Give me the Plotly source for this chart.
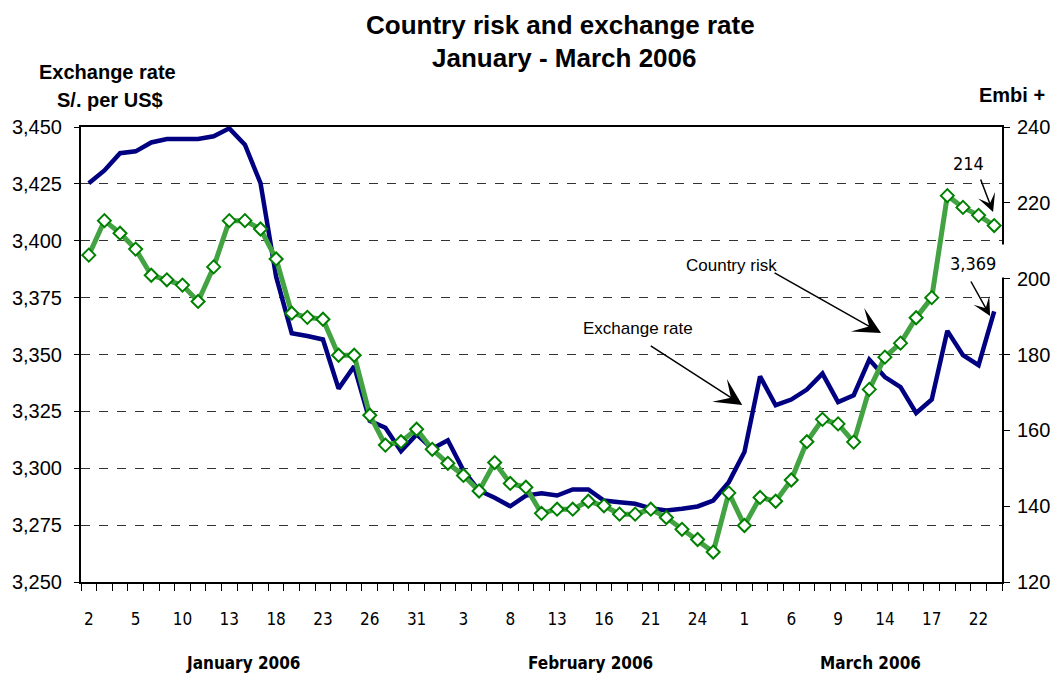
import plotly.graph_objects as go

# Trading days Jan 2 - Mar 23, 2006
days = [2, 3, 4, 5, 6, 9, 10, 11, 12, 13, 16, 17, 18, 19, 20, 23, 24, 25, 26, 27, 30, 31,
        1, 2, 3, 6, 7, 8, 9, 10, 13, 14, 15, 16, 17, 20, 21, 22, 23, 24, 27, 28,
        1, 2, 3, 6, 7, 8, 9, 10, 13, 14, 15, 16, 17, 20, 21, 22, 23]

exchange_rate = [3425.3, 3430.9, 3438.5, 3439.3, 3443.2, 3444.7, 3444.7, 3444.7, 3445.9, 3449.4,
                 3442.2, 3425.3, 3384.2, 3359.3, 3358.1, 3356.6, 3335.0, 3344.8, 3320.8, 3317.8,
                 3307.5, 3314.9, 3308.6, 3312.3, 3299.0, 3290.2, 3287.0, 3283.3, 3288.0, 3289.0,
                 3288.0, 3290.7, 3290.7, 3285.8, 3285.1, 3284.4, 3282.4, 3281.4, 3282.2, 3283.2,
                 3285.8, 3293.9, 3307.1, 3340.4, 3327.7, 3330.2, 3334.6, 3341.6, 3329.1, 3332.1,
                 3347.8, 3340.1, 3335.7, 3324.3, 3330.2, 3360.4, 3349.7, 3345.3, 3369.0]

country_risk = [206.2, 215.3, 212.0, 207.8, 200.9, 199.7, 198.3, 194.0, 203.1, 215.3,
                215.3, 213.1, 205.2, 190.9, 189.8, 189.3, 179.8, 179.8, 164.0, 156.1,
                157.0, 160.3, 155.0, 151.3, 148.1, 144.0, 151.5, 146.0, 145.0, 138.1,
                139.2, 139.2, 141.3, 140.1, 137.9, 137.9, 139.2, 137.0, 133.9, 131.2,
                127.9, 143.5, 134.9, 142.3, 141.3, 146.9, 157.0, 162.9, 161.7, 156.9,
                170.8, 179.3, 183.0, 189.7, 195.0, 221.9, 218.8, 216.7, 214.0]

idx = list(range(len(days)))
label_idx = idx[::3]
label_text = [str(days[i]) for i in label_idx]

months = ["January 2006", "February 2006", "March 2006"]
month_pos = [245, 595, 877]  # pixel centers

NARROW = "Noto Sans Condensed, DejaVu Sans Condensed, sans-serif"
ARIAL = "Liberation Sans, Arial, sans-serif"

L, R, T, B = 81, 52, 127, 91
W, H = 1062, 673
PW, PH = W - L - R, H - T - B


def px(x):
    return (x - L) / PW


def py(y):
    return (H - B - y) / PH


fig = go.Figure()
fig.add_trace(go.Scatter(x=idx, y=exchange_rate, mode="lines", name="Exchange rate",
                         line=dict(color="#000080", width=4.5), xaxis="x", yaxis="y"))
fig.add_trace(go.Scatter(x=idx, y=country_risk, mode="lines+markers", name="Country risk",
                         line=dict(color="#43a343", width=5),
                         marker=dict(symbol="diamond", size=10, color="white",
                                     line=dict(color="#008000", width=2)),
                         xaxis="x2", yaxis="y2"))

xr = [-0.5, len(days) - 0.5]
fig.update_layout(
    width=W, height=H, margin=dict(l=L, r=R, t=T, b=B),
    paper_bgcolor="white", plot_bgcolor="white", showlegend=False,
    xaxis=dict(range=xr, tickmode="linear", tick0=-0.5, dtick=1, ticks="outside",
               ticklen=7, tickcolor="black", tickwidth=1, showticklabels=False,
               showline=True, linecolor="black", linewidth=2, mirror=True,
               showgrid=False, zeroline=False),
    xaxis2=dict(range=xr, overlaying="x", anchor="y2", side="bottom",
                tickmode="array", tickvals=label_idx, ticktext=label_text, ticks="",
                showline=False, showgrid=False, zeroline=False,
                ticklabelstandoff=25,
                tickfont=dict(family=NARROW, size=17, color="black")),
    yaxis=dict(range=[3250, 3450], tickmode="linear", tick0=3250, dtick=25,
               tickformat=",d", ticks="outside", ticklen=5, tickcolor="black",
               showline=True, linecolor="black", linewidth=2,
               showgrid=True, gridcolor="#333333", griddash="dash", gridwidth=1,
               zeroline=False, ticklabelstandoff=8,
               tickfont=dict(family=ARIAL, size=20, color="black")),
    yaxis2=dict(range=[120, 240], tickmode="linear", tick0=120, dtick=20,
                overlaying="y", anchor="x2", side="right", ticks="outside", ticklen=6,
                tickcolor="black", showline=True, linecolor="black", linewidth=2,
                showgrid=False, zeroline=False, ticklabelstandoff=3,
                tickfont=dict(family=ARIAL, size=20, color="black")),
)


def text_ann(text, x, y, family, size, **kw):
    d = dict(text=text, x=px(x), y=py(y), xref="paper", yref="paper",
             xanchor="center", yanchor="middle", showarrow=False,
             font=dict(family=family, size=size, color="black"))
    d.update(kw)
    return d


ann = []
# title
ann.append(text_ann("<b>Country risk and exchange rate</b>", 565, 25, ARIAL, 26))
ann.append(text_ann("<b>January - March 2006</b>", 568, 58, ARIAL, 26))
# axis titles
ann.append(text_ann("<b>Exchange rate</b>", 108, 72, ARIAL, 20))
ann.append(text_ann("<b>S/. per US$</b>", 110, 100, ARIAL, 20))
ann.append(text_ann("<b>Embi +</b>", 1020, 95, ARIAL, 20))
# month labels
for m, p in zip(months, month_pos):
    ann.append(text_ann("<b>" + m + "</b>", p, 663, NARROW, 17))
# white gap on the right axis behind the 3,369 label
ann.append(dict(text=" ", x=px(1010), y=py(261), xref="paper", yref="paper",
                xanchor="center", yanchor="middle", showarrow=False,
                width=20, height=32, bgcolor="white", borderpad=0))
# series labels
ann.append(text_ann("Country risk", 737, 265, ARIAL, 17))
ann.append(text_ann("Exchange rate", 643, 328, ARIAL, 17))
ann.append(text_ann("214", 976, 163, NARROW, 18))
ann.append(text_ann("3,369", 981, 263, NARROW, 18))
# arrows
arrows = [((780, 272), (888, 333), 3.0), ((655, 345), (748, 405), 3.0),
          ((988, 178), (1001, 212), 2.0), ((978, 280), (998, 316), 2.0)]
for (tx, ty), (hx, hy), s in arrows:
    ann.append(dict(text="", x=px(hx), y=py(hy), xref="paper", yref="paper",
                    ax=tx - hx, ay=ty - hy, axref="pixel", ayref="pixel",
                    showarrow=True, arrowhead=3, arrowsize=s, arrowwidth=1.5,
                    arrowcolor="black", standoff=0))
fig.update_layout(annotations=ann)

fig.write_html("out.html", config={"displayModeBar": False},
               post_script="document.body.style.margin='0px';")
